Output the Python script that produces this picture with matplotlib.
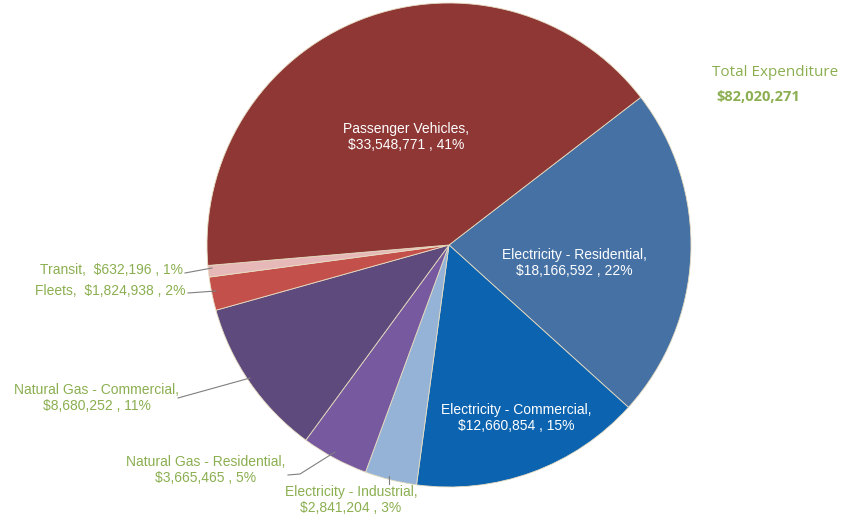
import matplotlib.pyplot as plt

# data (clockwise from the Passenger Vehicles / Residential boundary)
names = ["Electricity - Residential", "Electricity - Commercial", "Electricity - Industrial",
         "Natural Gas - Residential", "Natural Gas - Commercial", "Fleets", "Transit",
         "Passenger Vehicles"]
values = [18166592, 12660854, 2841204, 3665465, 8680252, 1824938, 632196, 33548771]
pcts = [22, 15, 3, 5, 11, 2, 1, 41]
colors = ["#4671A5", "#0C63AF", "#95B3D7", "#77599F", "#5E4A7C", "#C4504C", "#E6B9B8", "#8E3735"]
total_label = "$82,020,271"

W, H = 856, 525
fig = plt.figure(figsize=(W / 100, H / 100), dpi=100)
ax = fig.add_axes([0, 0, 1, 1])

def py(y):
    # pixel-down -> axis-up
    return H - y

ax.pie(values, colors=colors, startangle=37.6, counterclock=False,
       center=(449, py(245)), radius=242, frame=True,
       wedgeprops=dict(edgecolor="#e6dcc0", linewidth=0.6))
ax.set_xlim(0, W)
ax.set_ylim(0, H)
ax.set_aspect("equal")
ax.axis("off")

green = "#8BAF50"
font = "Liberation Sans"
labels = [f"{n},\n${v:,} , {p}%" for n, v, p in zip(names, values, pcts)]

# labels inside slices (white)
inside = {0: (574, 263), 1: (516, 418), 7: (406, 137)}
for i, (x, y) in inside.items():
    ax.text(x, py(y), labels[i], color="white", fontsize=10, family=font,
            ha="center", va="center", linespacing=1.25)

# outside labels (green) with leader lines
ax.text(351, py(500), labels[2], color=green, fontsize=10, family=font,
        ha="center", va="center", linespacing=1.25)
ax.plot([389, 389], [py(476), py(484)], color="#7f7f7f", lw=0.8)

ax.text(206, py(470), labels[3], color=green, fontsize=10, family=font,
        ha="center", va="center", linespacing=1.25)
ax.plot([288, 300, 335], [py(475), py(474), py(452)], color="#7f7f7f", lw=0.8)

ax.text(97, py(398), labels[4], color=green, fontsize=10, family=font,
        ha="center", va="center", linespacing=1.25)
ax.plot([178, 250], [py(398), py(378)], color="#7f7f7f", lw=0.8)

ax.text(183, py(270), f"{names[6]},  ${values[6]:,} , {pcts[6]}%", color=green,
        fontsize=10, family=font, ha="right", va="center")
ax.plot([185, 212], [py(273), py(268)], color="#7f7f7f", lw=0.8)

ax.text(186, py(291), f"{names[5]},  ${values[5]:,} , {pcts[5]}%", color=green,
        fontsize=10, family=font, ha="right", va="center")
ax.plot([188, 216], [py(293), py(291)], color="#7f7f7f", lw=0.8)

# total box
ax.text(712, py(72), "Total Expenditure", color=green, fontsize=11, family="Open Sans",
        ha="left", va="center")
ax.text(716, py(97), total_label, color=green, fontsize=10.5, family="Open Sans",
        fontweight="bold", ha="left", va="center")

fig.savefig("out.png", dpi=100, facecolor="white")
